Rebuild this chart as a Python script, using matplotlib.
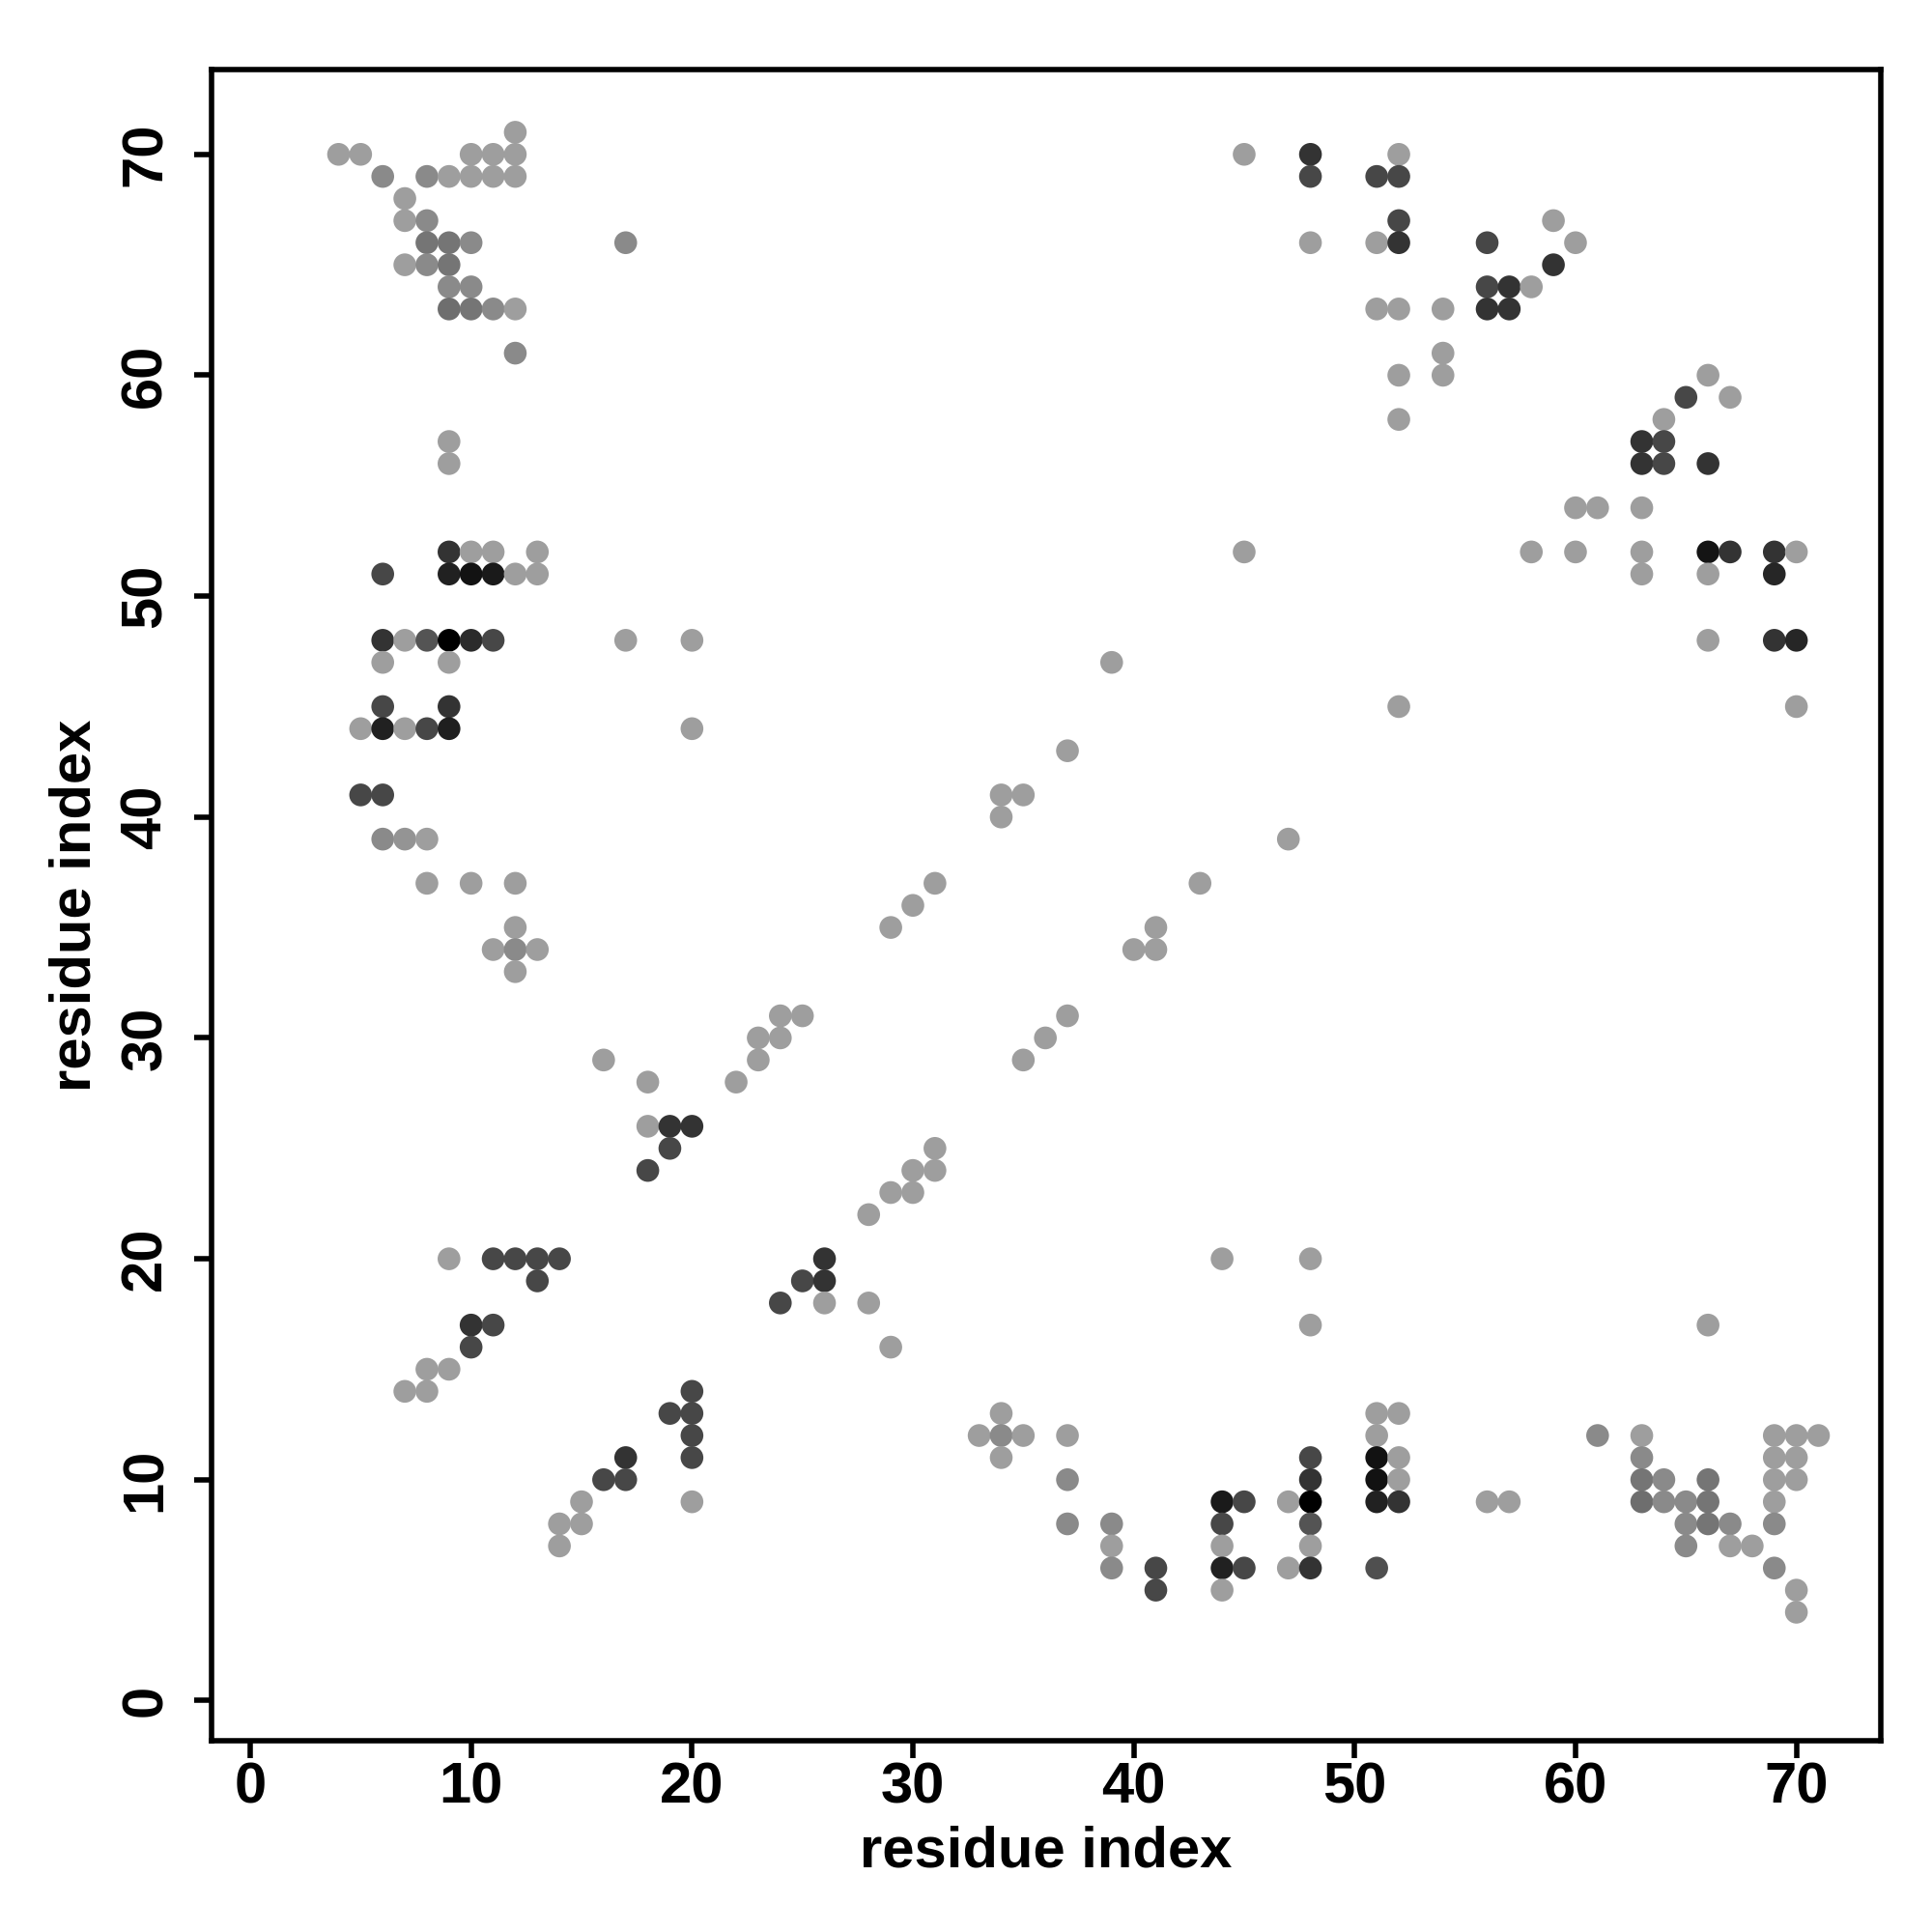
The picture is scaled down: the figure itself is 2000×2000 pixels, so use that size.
import matplotlib.pyplot as plt

# grey levels used for contact strength
L = 0.62    # light
M = 0.54    # medium
MD = 0.46   # medium-dark
D = 0.28    # dark
VD = 0.2    # very dark

# contacts: residue i (x), residue j (y), grey level
res_i = [12,
         4, 5, 10, 11, 12, 45, 48, 52,
         6, 8, 9, 10, 11, 12, 48, 51, 52,
         7,
         7, 8, 52, 59,
         8, 9, 10, 17, 48, 51, 52, 56, 60,
         7, 8, 9, 59,
         9, 10, 56, 57, 58,
         9, 10, 11, 12, 51, 52, 54, 56, 57,
         12, 54,
         52, 54, 66,
         65, 67,
         52, 64,
         9, 63, 64,
         9, 63, 64, 66,
         60, 61, 63,
         9, 10, 11, 13, 45, 58, 60, 63, 66, 67, 69, 70,
         6, 9, 10, 11, 12, 13, 63, 66, 69,
         6, 7, 8, 9, 10, 11, 17, 20, 66, 69, 70,
         6, 9, 39,
         6, 9, 52, 70,
         5, 6, 7, 8, 9, 20,
         37,
         5, 6, 34, 35,
         34,
         6, 7, 8, 47,
         8, 10, 12, 31, 43,
         30,
         12, 29, 41,
         11, 12, 13, 40, 41,
         12,
         24, 25, 37,
         23, 24, 36,
         16, 23, 35,
         18, 22,
         18, 19, 20,
         19, 31,
         18, 30, 31,
         29, 30,
         28,
         9, 11, 12, 13, 14, 26, 44, 48,
         13, 25, 26,
         24, 26, 28,
         10, 11, 48, 66,
         10, 29,
         8, 9,
         7, 8, 20,
         19, 20, 34, 51, 52,
         20, 33, 34, 35, 37, 51, 61, 63, 69, 70, 71,
         17, 20, 34, 48, 51, 52, 63, 69, 70,
         16, 17, 37, 48, 51, 52, 63, 64, 66, 69, 70,
         15, 20, 44, 45, 47, 48, 51, 52, 56, 57, 63, 64, 65, 66, 69,
         14, 15, 37, 39, 44, 48, 65, 66, 67, 69,
         14, 39, 44, 48, 65, 67, 68,
         39, 41, 44, 45, 47, 48, 51, 69,
         41, 44, 70,
         70]

res_j = [71,
         70, 70, 70, 70, 70, 70, 70, 70,
         69, 69, 69, 69, 69, 69, 69, 69, 69,
         68,
         67, 67, 67, 67,
         66, 66, 66, 66, 66, 66, 66, 66, 66,
         65, 65, 65, 65,
         64, 64, 64, 64, 64,
         63, 63, 63, 63, 63, 63, 63, 63, 63,
         61, 61,
         60, 60, 60,
         59, 59,
         58, 58,
         57, 57, 57,
         56, 56, 56, 56,
         54, 54, 54,
         52, 52, 52, 52, 52, 52, 52, 52, 52, 52, 52, 52,
         51, 51, 51, 51, 51, 51, 51, 51, 51,
         48, 48, 48, 48, 48, 48, 48, 48, 48, 48, 48,
         47, 47, 47,
         45, 45, 45, 45,
         44, 44, 44, 44, 44, 44,
         43,
         41, 41, 41, 41,
         40,
         39, 39, 39, 39,
         37, 37, 37, 37, 37,
         36,
         35, 35, 35,
         34, 34, 34, 34, 34,
         33,
         31, 31, 31,
         30, 30, 30,
         29, 29, 29,
         28, 28,
         26, 26, 26,
         25, 25,
         24, 24, 24,
         23, 23,
         22,
         20, 20, 20, 20, 20, 20, 20, 20,
         19, 19, 19,
         18, 18, 18,
         17, 17, 17, 17,
         16, 16,
         15, 15,
         14, 14, 14,
         13, 13, 13, 13, 13,
         12, 12, 12, 12, 12, 12, 12, 12, 12, 12, 12,
         11, 11, 11, 11, 11, 11, 11, 11, 11,
         10, 10, 10, 10, 10, 10, 10, 10, 10, 10, 10,
         9, 9, 9, 9, 9, 9, 9, 9, 9, 9, 9, 9, 9, 9, 9,
         8, 8, 8, 8, 8, 8, 8, 8, 8, 8,
         7, 7, 7, 7, 7, 7, 7,
         6, 6, 6, 6, 6, 6, 6, 6,
         5, 5, 5,
         4]

shade = [L,
         L, L, L, L, L, L, VD, L,
         M, M, L, L, L, L, D, D, D,
         L,
         L, M, D, L,
         MD, MD, M, M, L, L, VD, D, L,
         L, M, MD, VD,
         M, M, D, VD, L,
         0.43, MD, M, L, L, L, L, VD, VD,
         M, L,
         L, L, L,
         D, L,
         L, L,
         L, VD, D,
         L, VD, D, VD,
         L, L, L,
         VD, L, L, L, L, L, L, L, 0.08, VD, VD, L,
         D, 0.13, 0.07, 0.1, L, L, L, L, 0.15,
         VD, L, 0.33, 0.0, 0.17, D, L, L, L, VD, 0.15,
         L, L, L,
         D, VD, L, L,
         L, 0.13, L, D, 0.12, L,
         L,
         D, D, L, L,
         L,
         M, 0.58, L, L,
         L, L, L, L, L,
         L,
         L, L, L,
         L, M, L, L, L,
         L,
         L, L, L,
         L, L, L,
         L, L, L,
         L, L,
         L, VD, VD,
         D, L,
         D, L, L,
         L, L,
         L,
         L, D, D, D, D, VD, L, L,
         D, D, VD,
         D, L, L,
         VD, D, L, L,
         D, L,
         L, L,
         L, L, D,
         D, D, L, L, L,
         D, L, M, L, L, L, M, L, L, L, L,
         VD, D, L, D, 0.07, L, M, L, L,
         D, D, M, VD, 0.07, L, MD, M, MD, L, L,
         L, L, 0.1, D, L, 0.0, 0.13, VD, L, L, 0.43, M, M, MD, L,
         L, L, M, M, D, 0.33, M, MD, M, M,
         L, L, L, L, M, L, L,
         M, D, 0.13, D, L, VD, 0.31, M,
         D, L, L,
         L]

ticks = [0, 10, 20, 30, 40, 50, 60, 70]

plt.rcParams['font.family'] = ['Liberation Sans', 'DejaVu Sans']
plt.rcParams['font.weight'] = 'bold'

fig = plt.figure(figsize=(10, 10), dpi=200)
ax = fig.add_axes([0.1095, 0.0992, 0.8641, 0.8647])

colors = [(g, g, g) for g in shade]
ax.scatter(res_i, res_j, s=72, c=colors, linewidths=0)

ax.set_xlim(-1.75, 73.83)
ax.set_ylim(-1.80, 73.83)
ax.set_xticks(ticks)
ax.set_yticks(ticks)
ax.set_yticklabels([str(t) for t in ticks], rotation=90, va='center')

for sp in ax.spines.values():
    sp.set_linewidth(2.0)
ax.tick_params(direction='out', length=6.5, width=2.0, labelsize=21.5)
ax.tick_params(axis='x', pad=1.5)
ax.tick_params(axis='y', pad=8)

ax.set_xlabel('residue index', fontsize=21.5, fontweight='bold', labelpad=4)
ax.set_ylabel('residue index', fontsize=21.5, fontweight='bold', labelpad=6.5)

fig.savefig('out.png', dpi=200, facecolor='white')
